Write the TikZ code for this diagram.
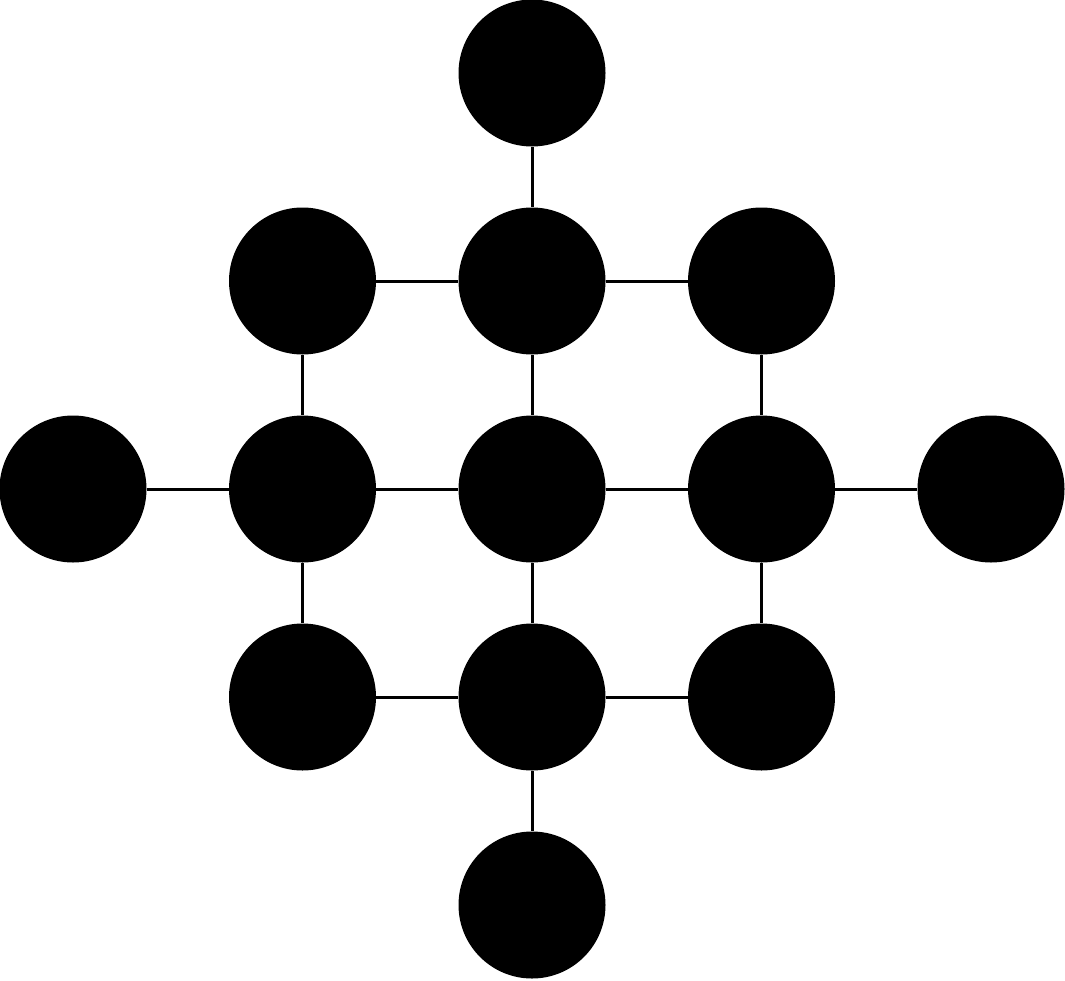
\documentclass[tikz,border=0pt]{standalone}
\tikzset{
  dot/.style={circle,fill=black,minimum size=147pt,inner sep=0pt},
  link/.style={line width=3pt}
}
\begin{document}
\begin{tikzpicture}[x=1pt,y=-1pt]
    \useasboundingbox (0,0) rectangle (1065,980);
    \def\x{229.5}
    \def\y{208}
    \node [dot] (A0_2) at ({73+2*\x}, {73+0*\y}) {};
    \node [dot] (A1_1) at ({73+1*\x}, {73+1*\y}) {};
    \node [dot] (A1_2) at ({73+2*\x}, {73+1*\y}) {};
    \node [dot] (A1_3) at ({73+3*\x}, {73+1*\y}) {};
    \node [dot] (A2_0) at ({73+0*\x}, {73+2*\y}) {};
    \node [dot] (A2_1) at ({73+1*\x}, {73+2*\y}) {};
    \node [dot] (A2_2) at ({73+2*\x}, {73+2*\y}) {};
    \node [dot] (A2_3) at ({73+3*\x}, {73+2*\y}) {};
    \node [dot] (A2_4) at ({73+4*\x}, {73+2*\y}) {};
    \node [dot] (A3_1) at ({73+1*\x}, {73+3*\y}) {};
    \node [dot] (A3_2) at ({73+2*\x}, {73+3*\y}) {};
    \node [dot] (A3_3) at ({73+3*\x}, {73+3*\y}) {};
    \node [dot] (A4_2) at ({73+2*\x}, {73+4*\y}) {};
    \path (A0_2) edge [link] (A1_2);
    \path (A1_1) edge [link] (A1_2);
    \path (A1_2) edge [link] (A1_3);
    \path (A1_1) edge [link] (A2_1);
    \path (A1_2) edge [link] (A2_2);
    \path (A1_3) edge [link] (A2_3);
    \path (A2_0) edge [link] (A2_1);
    \path (A2_1) edge [link] (A2_2);
    \path (A2_2) edge [link] (A2_3);
    \path (A2_3) edge [link] (A2_4);
    \path (A2_1) edge [link] (A3_1);
    \path (A2_2) edge [link] (A3_2);
    \path (A2_3) edge [link] (A3_3);
    \path (A3_1) edge [link] (A3_2);
    \path (A3_2) edge [link] (A3_3);
    \path (A3_2) edge [link] (A4_2);
  \end{tikzpicture}
\end{document}
